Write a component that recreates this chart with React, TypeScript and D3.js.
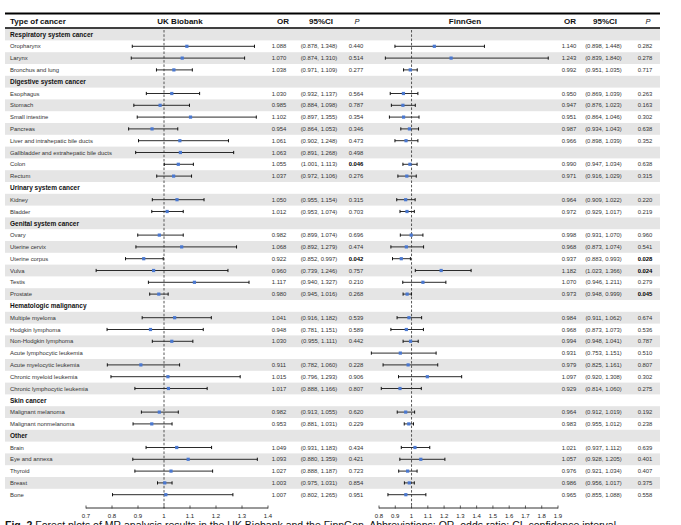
import * as d3 from "d3";

const sections = [
  "Respiratory system cancer",
  "Digestive system cancer",
  "Urinary system cancer",
  "Genital system cancer",
  "Hematologic malignancy",
  "Skin cancer",
  "Other",
];

const cancers = [
  "Oropharynx", "Larynx", "Bronchus and lung",
  "Esophagus", "Stomach", "Small intestine", "Pancreas", "Liver and intrahepatic bile ducts",
  "Gallbladder and extrahepatic bile ducts", "Colon", "Rectum",
  "Kidney", "Bladder",
  "Ovary", "Uterine cervix", "Uterine corpus", "Vulva", "Testis", "Prostate",
  "Multiple myeloma", "Hodgkin lymphoma", "Non-Hodgkin lymphoma", "Acute lymphocytic leukemia",
  "Acute myelocytic leukemia", "Chronic myeloid leukemia", "Chronic lymphocytic leukemia",
  "Malignant melanoma", "Malignant nonmelanoma",
  "Brain", "Eye and annexa", "Thyroid", "Breast", "Bone",
];

const cancerSection = [
  0, 0, 0,
  1, 1, 1, 1, 1, 1, 1, 1,
  2, 2,
  3, 3, 3, 3, 3, 3,
  4, 4, 4, 4, 4, 4, 4,
  5, 5,
  6, 6, 6, 6, 6,
];

type V = number | null;

const ukOR: V[] = [1.088, 1.070, 1.038, 1.030, 0.985, 1.102, 0.954, 1.061, 1.063, 1.055, 1.037, 1.050, 1.012, 0.982, 1.068, 0.922, 0.960, 1.117, 0.980, 1.041, 0.948, 1.030, null, 0.911, 1.015, 1.017, 0.982, 0.953, 1.049, 1.093, 1.027, 1.003, 1.007];
const ukLo: V[] = [0.878, 0.874, 0.971, 0.932, 0.884, 0.897, 0.864, 0.902, 0.891, 1.001, 0.972, 0.955, 0.953, 0.899, 0.892, 0.852, 0.739, 0.940, 0.945, 0.916, 0.781, 0.955, null, 0.782, 0.796, 0.888, 0.913, 0.881, 0.931, 0.880, 0.888, 0.975, 0.802];
const ukHi: V[] = [1.348, 1.310, 1.109, 1.137, 1.098, 1.355, 1.053, 1.248, 1.268, 1.113, 1.106, 1.154, 1.074, 1.074, 1.279, 0.997, 1.246, 1.327, 1.016, 1.182, 1.151, 1.111, null, 1.060, 1.293, 1.166, 1.055, 1.031, 1.183, 1.359, 1.187, 1.031, 1.265];
const ukP: V[] = [0.440, 0.514, 0.277, 0.564, 0.787, 0.354, 0.346, 0.473, 0.498, 0.046, 0.276, 0.315, 0.703, 0.696, 0.474, 0.042, 0.757, 0.210, 0.268, 0.539, 0.589, 0.442, null, 0.228, 0.906, 0.807, 0.620, 0.229, 0.434, 0.421, 0.723, 0.854, 0.951];

const fgOR: V[] = [1.140, 1.243, 0.992, 0.950, 0.947, 0.951, 0.987, 0.966, null, 0.990, 0.971, 0.964, 0.972, 0.998, 0.968, 0.937, 1.182, 1.070, 0.973, 0.984, 0.968, 0.994, 0.931, 0.979, 1.097, 0.929, 0.964, 0.983, 1.021, 1.057, 0.976, 0.986, 0.965];
const fgLo: V[] = [0.898, 0.839, 0.951, 0.869, 0.876, 0.864, 0.934, 0.898, null, 0.947, 0.916, 0.909, 0.929, 0.931, 0.873, 0.883, 1.023, 0.946, 0.948, 0.911, 0.873, 0.948, 0.753, 0.825, 0.920, 0.814, 0.912, 0.955, 0.937, 0.928, 0.921, 0.956, 0.855];
const fgHi: V[] = [1.448, 1.840, 1.035, 1.039, 1.023, 1.046, 1.043, 1.039, null, 1.034, 1.029, 1.022, 1.017, 1.070, 1.074, 0.993, 1.366, 1.211, 0.999, 1.062, 1.073, 1.041, 1.151, 1.161, 1.308, 1.060, 1.019, 1.012, 1.112, 1.205, 1.034, 1.017, 1.088];
const fgP: V[] = [0.282, 0.278, 0.717, 0.263, 0.163, 0.302, 0.638, 0.352, null, 0.638, 0.315, 0.220, 0.219, 0.960, 0.541, 0.028, 0.024, 0.279, 0.045, 0.674, 0.536, 0.787, 0.510, 0.807, 0.302, 0.275, 0.192, 0.238, 0.639, 0.401, 0.407, 0.375, 0.558];

const ukTicks = [0.7, 0.8, 0.9, 1, 1.1, 1.2, 1.3, 1.4];
const fgTicks = [0.8, 0.9, 1, 1.1, 1.2, 1.3, 1.4, 1.5, 1.6, 1.7, 1.8, 1.9];

const W = 681;
const H = 525;
const FONT = "'Liberation Sans', Arial, sans-serif";
const ROW_TOP = 28.6;
const ROW_H = 11.8;
const AXIS_Y = 508;
const BLUE = "#4a78d0";

type Row =
  | { kind: "section"; label: string }
  | { kind: "cancer"; label: string; i: number };

function buildRows(): Row[] {
  const rows: Row[] = [];
  let last = -1;
  cancers.forEach((name, i) => {
    if (cancerSection[i] !== last) {
      last = cancerSection[i];
      rows.push({ kind: "section", label: sections[last] });
    }
    rows.push({ kind: "cancer", label: name, i });
  });
  return rows;
}

const fmt = d3.format(".3f");

function Forest({ x, or, lo, hi, yc }: { x: d3.ScaleLinear<number, number>; or: V; lo: V; hi: V; yc: number }) {
  if (or == null || lo == null || hi == null) return null;
  return (
    <g>
      <line x1={x(lo)} x2={x(hi)} y1={yc} y2={yc} stroke="#2b2b2b" strokeWidth={1} />
      <line x1={x(lo)} x2={x(lo)} y1={yc - 1.6} y2={yc + 1.6} stroke="#111" strokeWidth={1} />
      <line x1={x(hi)} x2={x(hi)} y1={yc - 1.6} y2={yc + 1.6} stroke="#111" strokeWidth={1} />
      <rect x={x(or) - 1.6} y={yc - 1.6} width={3.2} height={3.2} fill={BLUE} />
    </g>
  );
}

function Axis({ x, ticks }: { x: d3.ScaleLinear<number, number>; ticks: number[] }) {
  const [a, b] = x.range();
  return (
    <g>
      <line x1={a} x2={b} y1={AXIS_Y} y2={AXIS_Y} stroke="#333" strokeWidth={1} />
      {ticks.map((t) => (
        <g key={t}>
          <line x1={x(t)} x2={x(t)} y1={AXIS_Y - 2.5} y2={AXIS_Y + 0.5} stroke="#333" strokeWidth={0.8} />
          <text x={x(t)} y={AXIS_Y + 9.5} textAnchor="middle" fontSize={6} fill="#222">
            {d3.format("~g")(t)}
          </text>
        </g>
      ))}
    </g>
  );
}

export default function App() {
  const rows = buildRows();
  const xUK = d3.scaleLinear().domain([0.7, 1.4]).range([86, 268]);
  const xFG = d3.scaleLinear().domain([0.8, 1.9]).range([379, 558]);
  const yc = (k: number) => ROW_TOP + ROW_H * k + ROW_H / 2;
  const ci = (lo: V, hi: V) => (lo == null || hi == null ? "" : `(${fmt(lo)}, ${fmt(hi)})`);
  const num = (v: V) => (v == null ? "" : fmt(v));
  const sig = (v: V) => v != null && v < 0.05;

  return (
    <div style={{ position: "absolute", left: 0, top: 0 }}>
      <svg width={W} height={H} viewBox={`0 0 ${W} ${H}`} style={{ display: "block", background: "#fff" }} fontFamily={FONT}>
        {rows.map((r, k) =>
          k % 2 === 0 ? (
            <rect key={"bg" + k} x={5} y={ROW_TOP + ROW_H * k} width={655} height={ROW_H} fill="#e5e5e5" />
          ) : null
        )}
        <line x1={5} x2={660} y1={13.5} y2={13.5} stroke="#000" strokeWidth={2} />
        <line x1={5} x2={660} y1={28} y2={28} stroke="#000" strokeWidth={1.3} />

        <g fontSize={8} fontWeight="bold" fill="#111">
          <text x={10} y={23.5}>Type of cancer</text>
          <text x={180} y={23.5} textAnchor="middle">UK Biobank</text>
          <text x={283} y={23.5} textAnchor="middle">OR</text>
          <text x={321} y={23.5} textAnchor="middle">95%CI</text>
          <text x={465} y={23.5} textAnchor="middle">FinnGen</text>
          <text x={570} y={23.5} textAnchor="middle">OR</text>
          <text x={605} y={23.5} textAnchor="middle">95%CI</text>
        </g>
        <g fontSize={7.5} fontStyle="italic" fill="#111">
          <text x={357} y={23.5} textAnchor="middle">P</text>
          <text x={648} y={23.5} textAnchor="middle">P</text>
        </g>

        <line x1={xUK(1)} x2={xUK(1)} y1={30} y2={AXIS_Y} stroke="#444" strokeWidth={0.9} strokeDasharray="2.5,1.8" />
        <line x1={xFG(1)} x2={xFG(1)} y1={30} y2={AXIS_Y} stroke="#444" strokeWidth={0.9} strokeDasharray="2.5,1.8" />

        {rows.map((r, k) => {
          const y = yc(k);
          if (r.kind === "section") {
            return (
              <text key={"r" + k} x={10} y={y + 2.2} fontSize={6.5} fontWeight="bold" fill="#111">
                {r.label}
              </text>
            );
          }
          const i = r.i;
          return (
            <g key={"r" + k} fontSize={5.9} fill="#333">
              <text x={10} y={y + 2.1}>{r.label}</text>
              <Forest x={xUK} or={ukOR[i]} lo={ukLo[i]} hi={ukHi[i]} yc={y} />
              <Forest x={xFG} or={fgOR[i]} lo={fgLo[i]} hi={fgHi[i]} yc={y} />
              <text x={279} y={y + 2.1} textAnchor="middle">{num(ukOR[i])}</text>
              <text x={319} y={y + 2.1} textAnchor="middle">{ci(ukLo[i], ukHi[i])}</text>
              <text x={356} y={y + 2.1} textAnchor="middle" fontWeight={sig(ukP[i]) ? "bold" : "normal"} fill={sig(ukP[i]) ? "#000" : "#333"}>
                {num(ukP[i])}
              </text>
              <text x={569} y={y + 2.1} textAnchor="middle">{num(fgOR[i])}</text>
              <text x={603.5} y={y + 2.1} textAnchor="middle">{ci(fgLo[i], fgHi[i])}</text>
              <text x={645} y={y + 2.1} textAnchor="middle" fontWeight={sig(fgP[i]) ? "bold" : "normal"} fill={sig(fgP[i]) ? "#000" : "#333"}>
                {num(fgP[i])}
              </text>
            </g>
          );
        })}

        <Axis x={xUK} ticks={ukTicks} />
        <Axis x={xFG} ticks={fgTicks} />

        <text x={5} y={529} fontSize={10.5} fill="#111">
          <tspan fontWeight="bold">Fig. 2</tspan> Forest plots of MR analysis results in the UK Biobank and the FinnGen. Abbreviations: OR, odds ratio; CI, confidence interval
        </text>
      </svg>
    </div>
  );
}
